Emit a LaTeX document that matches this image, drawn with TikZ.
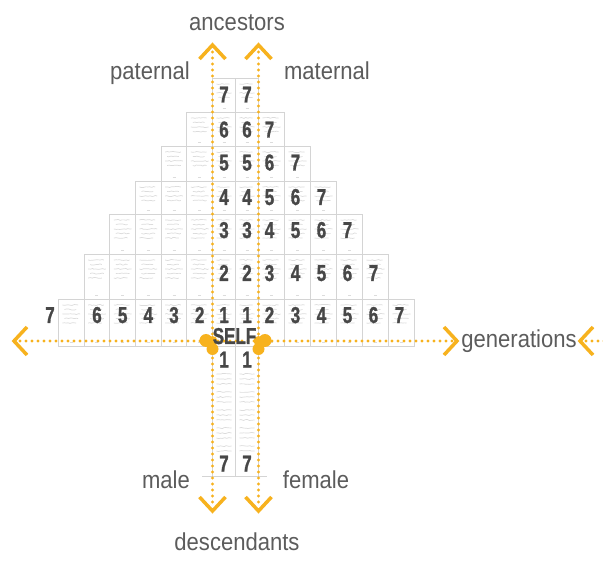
\documentclass[tikz,border=0pt]{standalone}
\usepackage{fontspec}
\setmainfont{Liberation Sans}
\newfontfamily\labfont[FakeStretch=0.9]{Liberation Sans}
\newfontfamily\digfont[FakeStretch=0.74,FakeBold=1.2]{Liberation Sans Bold}
\usetikzlibrary{decorations.pathmorphing}
\definecolor{org}{HTML}{F7B21E}
\definecolor{labc}{HTML}{5C5C5C}
\definecolor{digc}{HTML}{474747}
\definecolor{cellc}{HTML}{D4D4D4}
\definecolor{scribc}{HTML}{DCDCDC}
\tikzset{
  cellbox/.style={draw=cellc, line width=0.9pt},
  scrib/.style={draw=scribc, line width=0.7pt, decorate, decoration={random steps, segment length=2pt, amplitude=0.6pt}},
  digit/.style={font=\digfont\fontsize{23}{23}\selectfont, text=digc, inner sep=0pt, anchor=base},
  lab/.style={font=\labfont\fontsize{24.5}{24.5}\selectfont, text=labc, inner sep=0pt, anchor=base},
  dotline/.style={draw=org, line width=3.2pt, line cap=round, dash pattern=on 0pt off 6pt},
  chev/.style={draw=org, line width=3.5pt, line join=miter},
  blob/.style={fill=org, draw=none}
}
\newcommand\scribcell[4]{%
  \foreach \k in {0,1,2,3,4}{%
    \pgfmathsetmacro\yy{#2+6+4.5*\k}%
    \pgfmathsetmacro\lim{#4-12}%
    \ifdim\yy pt<\lim pt
      \draw[scrib] ({#1+4+mod(\k,2)*2},\yy) -- ({#3-4-mod(\k+1,3)*2},\yy);
    \fi
  }%
  \draw[scrib] ({(#1+#3)/2-1.5},{#4-4}) -- ({(#1+#3)/2+1.5},{#4-4});
}
\begin{document}
\begin{tikzpicture}[x=1pt,y=-1pt]
\useasboundingbox (0,0) rectangle (603,564);
\fill[white] (0,0) rectangle (603,564);

% ---- ancestor rows ----
\foreach \r/\t/\b in {1/299/346, 2/254/299, 3/214/254, 4/181/214, 5/146/181, 6/112/146, 7/78/112}{
  \pgfmathtruncatemacro\n{7-\r}
  \draw[cellbox] (212.5,\t) rectangle (235.5,\b);
  \draw[cellbox] (235.5,\t) rectangle (258.5,\b);
  \scribcell{212.5}{\t}{235.5}{\b}
  \scribcell{235.5}{\t}{258.5}{\b}
  \ifnum\n>0
    \foreach \i in {1,...,\n}{
      \pgfmathsetmacro\xa{212.5-25.667*\i}
      \pgfmathsetmacro\xb{212.5-25.667*(\i-1)}
      \pgfmathsetmacro\xc{258.5+26*(\i-1)}
      \pgfmathsetmacro\xd{258.5+26*\i}
      \draw[cellbox] (\xa,\t) rectangle (\xb,\b);
      \draw[cellbox] (\xc,\t) rectangle (\xd,\b);
      \scribcell{\xa}{\t}{\xb}{\b}
      \scribcell{\xc}{\t}{\xd}{\b}
    }
  \fi
}

% ---- descendant columns ----
\draw[cellbox] (212.5,346) rectangle (235.5,476);
\draw[cellbox] (235.5,346) rectangle (258.5,476);
\foreach \yy in {374,379,384,392,397,402,410,415,420,428,433,438,446,451}{
  \draw[scrib] (216.5,\yy) -- (231.5,\yy);
  \draw[scrib] (239.5,\yy) -- (254.5,\yy);
}
\coordinate (baseL) at (202,476);
\coordinate (baseR) at (267,476);
\draw[cellbox] (baseL) -- (baseR);

% ---- dotted axes ----
\coordinate (upL) at (212.5,45);
\coordinate (upR) at (258.5,45);
\coordinate (dnL) at (212.5,511);
\coordinate (dnR) at (258.5,511);
\coordinate (lt) at (14,341);
\coordinate (rt) at (457,341);
\coordinate (rt2) at (580,341);
\coordinate (edge) at (606,341);

\draw[dotline] ([yshift=-7pt]upL) -- ([yshift=8pt]dnL);
\draw[dotline] ([yshift=-7pt]upR) -- ([yshift=8pt]dnR);
\draw[dotline] ([xshift=6pt]lt) -- ([xshift=-5pt]rt);
\draw[dotline] ([xshift=6pt]rt2) -- (edge);

% chevrons
\draw[chev] ([shift={(-13,14)}]upL) -- (upL) -- ([shift={(13,14)}]upL);
\draw[chev] ([shift={(-13,14)}]upR) -- (upR) -- ([shift={(13,14)}]upR);
\draw[chev] ([shift={(-13,-14)}]dnL) -- (dnL) -- ([shift={(13,-14)}]dnL);
\draw[chev] ([shift={(-13,-14)}]dnR) -- (dnR) -- ([shift={(13,-14)}]dnR);
\draw[chev] ([shift={(13,-14)}]lt) -- (lt) -- ([shift={(13,14)}]lt);
\draw[chev] ([shift={(-13,-14)}]rt) -- (rt) -- ([shift={(-13,14)}]rt);
\draw[chev] ([shift={(13,-14)}]rt2) -- (rt2) -- ([shift={(13,14)}]rt2);

% SELF blobs
\fill[blob] (206,340.5) circle (6.5);
\fill[blob] (212.5,349) circle (6);
\fill[blob] (212.5,341) circle (5);
\fill[blob] (265,340.5) circle (6.5);
\fill[blob] (258.5,349) circle (6);
\fill[blob] (258.5,341) circle (5);

% ---- digits ----
\foreach \r/\bl in {1/323, 2/281, 3/238, 4/205, 5/170.5, 6/137.5, 7/102.5}{
  \node[digit] (cl\r) at (224,\bl) {\r};
  \node[digit] (cr\r) at (247,\bl) {\r};
  \pgfmathtruncatemacro\n{7-\r}
  \ifnum\n>0
    \foreach \j in {1,...,\n}{
      \pgfmathtruncatemacro\v{\r+\j}
      \pgfmathsetmacro\xx{258.5+26*(\j-0.5)-2}
      \node[digit] (rd\r-\j) at (\xx,\bl) {\v};
    }
  \fi
}
\foreach \i/\v in {1/2,2/3,3/4,4/5,5/6}{
  \pgfmathsetmacro\xx{212.5-25.667*(\i-0.5)}
  \node[digit] (ld\i) at (\xx,323) {\v};
}
\node[digit] (ld7) at (50,323) {7};
\node[digit] (dl1) at (224,367.5) {1};
\node[digit] (dr1) at (247,367.5) {1};
\node[digit] (dl7) at (224,471.5) {7};
\node[digit] (dr7) at (247,471.5) {7};
\node[digit] (self) at (234.5,344) {SELF};

% ---- labels ----
\node[lab] (anc) at (237,31) {ancestors};
\node[lab] (pat) at (150,80) {paternal};
\node[lab] (mat) at (327,80) {maternal};
\node[lab] (gen) at (519,347.5) {generations};
\node[lab] (male) at (166,488) {male};
\node[lab] (fem) at (316,488) {female};
\node[lab] (desc) at (237,550) {descendants};
\end{tikzpicture}
\end{document}
